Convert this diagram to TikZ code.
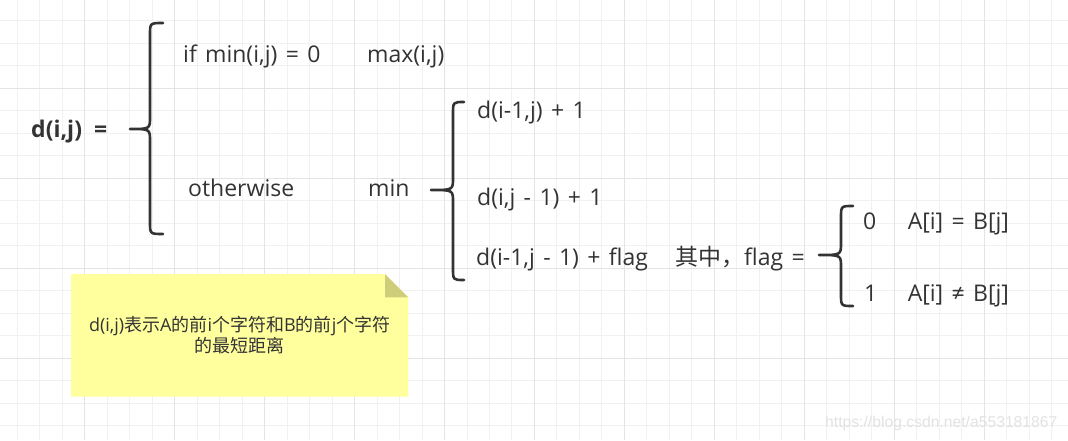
\documentclass[tikz,border=0pt]{standalone}
\usepackage{fontspec}
\setmainfont{Open Sans}[WordSpace=1.4]
\newfontfamily\cjk{Noto Sans CJK SC}
\newfontfamily\wmark{Liberation Sans}
\usetikzlibrary{positioning}
\definecolor{ink}{RGB}{51,51,51}
\definecolor{gridlight}{RGB}{241,241,241}
\definecolor{griddark}{RGB}{228,228,228}
\definecolor{memofill}{RGB}{255,255,158}
\definecolor{memofold}{RGB}{205,205,122}
\definecolor{wmgray}{RGB}{226,226,226}
\begin{document}
\begin{tikzpicture}[x=1pt,y=-1pt,
    formula/.style={inner sep=0pt, anchor=base west, text=ink, font=\fontsize{23}{27}\selectfont},
    casebrace/.style={draw=ink, line width=2.6pt, line cap=round, line join=round},
    memotext/.style={inner sep=0pt, align=center, text=ink, font=\fontsize{18}{21.3}\selectfont}]
    \useasboundingbox (0,0) rectangle (1068,440);

    % grid
    \begin{scope}
    \clip (0,0) rectangle (1068,440);
    \foreach \i in {0,...,47} \draw[gridlight, line width=1pt] ({17.4+22.48*(\i-1)},0) -- ++(0,440);
    \foreach \j in {0,...,19} \draw[gridlight, line width=1pt] (0,{-1.5+22.48*\j}) -- ++(1068,0);
    \foreach \i in {0,4,...,44} \draw[griddark, line width=1pt] ({17.4+22.48*(\i-1)},0) -- ++(0,440);
    \foreach \j in {0,4,...,16} \draw[griddark, line width=1pt] (0,{-1.5+22.48*\j}) -- ++(1068,0);
    \end{scope}

    \node[formula, font=\fontsize{23}{27}\selectfont\bfseries] (lhs) at (31,137) {d(i,j)\hspace{12pt}=};

    \draw[casebrace] (163,23) .. controls (150,23) .. (150,35) -- (150,117) .. controls (150,129) .. (130,129)
        .. controls (150,129) .. (150,141) -- (150,222) .. controls (150,234) .. (163,234);

    \node[formula] (case1) at (183,62) {if min(i,j) = 0};
    \node[formula] (val1) at (367,62) {max(i,j)};
    \node[formula] (case2) at (188,196) {otherwise};
    \node[formula] (val2) at (368,196) {min};

    \draw[casebrace] (464,102) .. controls (453,102) .. (453,114) -- (453,178) .. controls (453,190) .. (431,190)
        .. controls (453,190) .. (453,202) -- (453,268) .. controls (453,280) .. (464,280);

    \node[formula] (opt1) at (477,118) {d(i-1,j) + 1};
    \node[formula] (opt2) at (477,205) {d(i,j - 1) + 1};
    \node[formula] (opt3) at (476,265) {d(i-1,j - 1) + flag};
    \node[formula] (where) at (675,265) {{\cjk 其中，}flag =};

    \draw[casebrace] (853,206) .. controls (841,206) .. (841,218) -- (841,243) .. controls (841,255) .. (819,255)
        .. controls (841,255) .. (841,267) -- (841,294) .. controls (841,306) .. (853,306);

    \node[formula] (f0) at (863,229) {0};
    \node[formula, base right=31pt of f0] (fc0) {A[i] = B[j]};
    \node[formula] (f1) at (864,301) {1};
    \node[formula] (fc1) at (fc0.base west |- f1.base) [anchor=base west] {A[i] ≠ B[j]};

    % note
    \fill[memofill] (71,274) -- (385,274) -- (408.3,297.3) -- (408.3,396.7) -- (71,396.7) -- cycle;
    \fill[memofold] (385,274) -- (385,297.3) -- (408.3,297.3) -- cycle;
    \node[memotext] (memo) at (239.7,335.3) {d(i,j){\cjk 表示}A{\cjk 的前}i{\cjk 个字符和}B{\cjk 的前}j{\cjk 个字符}\\{\cjk 的最短距离}};

    \node[inner sep=0pt, anchor=base west, text=wmgray, font=\wmark\fontsize{15.7}{18}\selectfont] (mark) at (825,427) {https://blog.csdn.net/a553181867};
\end{tikzpicture}
\end{document}
